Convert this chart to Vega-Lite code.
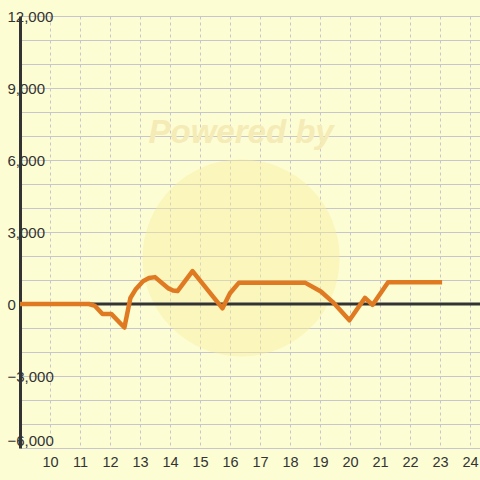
{
  "$schema": "https://vega.github.io/schema/vega-lite/v6.json",
  "width": 460,
  "height": 432,
  "autosize": "none",
  "padding": {"left": 20, "top": 16, "right": 0, "bottom": 32},
  "background": "#FDFDD3",
  "config": {
    "view": {"stroke": null},
    "font": "Liberation Sans"
  },
  "datasets": {
    "series": [
      {"x": 9.0, "v": 0},
      {"x": 11.3, "v": 0},
      {"x": 11.5, "v": -80},
      {"x": 11.75, "v": -420},
      {"x": 12.05, "v": -420},
      {"x": 12.48, "v": -980},
      {"x": 12.68, "v": 250},
      {"x": 12.85, "v": 600},
      {"x": 13.1, "v": 950},
      {"x": 13.3, "v": 1080},
      {"x": 13.5, "v": 1120},
      {"x": 13.95, "v": 650},
      {"x": 14.1, "v": 560},
      {"x": 14.25, "v": 540},
      {"x": 14.75, "v": 1370},
      {"x": 15.75, "v": -180},
      {"x": 16.0, "v": 450},
      {"x": 16.3, "v": 890},
      {"x": 18.5, "v": 890},
      {"x": 19.03, "v": 520},
      {"x": 19.42, "v": 90},
      {"x": 19.98, "v": -680},
      {"x": 20.5, "v": 260},
      {"x": 20.75, "v": -40},
      {"x": 21.27, "v": 910},
      {"x": 23.07, "v": 910}
    ],
    "mark": [
      {"x": 16.37, "v": 1920, "label": "Powered by", "tv": 7125}
    ]
  },
  "encoding": {
    "x": {
      "field": "x", "type": "quantitative",
      "scale": {"domain": [9, 24.3333], "nice": false, "zero": false},
      "axis": {
        "title": null,
        "values": [10, 11, 12, 13, 14, 15, 16, 17, 18, 19, 20, 21, 22, 23, 24],
        "domain": false, "ticks": false, "tickSize": 0,
        "labelPadding": 7, "labelFontSize": 14.5, "labelColor": "#333333",
        "labelFont": "Liberation Sans",
        "grid": true, "gridColor": "#C6C6CC", "gridDash": [3, 3], "gridWidth": 1
      }
    },
    "y": {
      "field": "v", "type": "quantitative",
      "scale": {"domain": [-6000, 12000], "nice": false, "zero": false},
      "axis": {
        "title": null,
        "values": [-6000, -5000, -4000, -3000, -2000, -1000, 0, 1000, 2000, 3000, 4000, 5000, 6000, 7000, 8000, 9000, 10000, 11000, 12000],
        "labelExpr": "datum.value % 3000 == 0 ? format(datum.value, ',') : ''",
        "domain": true, "domainColor": "#333333", "domainWidth": 3,
        "ticks": false, "tickSize": 0,
        "labelAlign": "left", "labelPadding": 13, "labelFlush": false,
        "labelBaseline": {"condition": {"test": "datum.value == -6000", "value": "bottom"}, "value": "middle"},
        "labelFontSize": 15, "labelColor": "#333333", "labelFont": "Liberation Sans",
        "grid": true, "gridColor": "#C6C6CC", "gridWidth": 1.2
      }
    }
  },
  "layer": [
    {
      "data": {"name": "mark"},
      "mark": {"type": "point", "shape": "circle", "filled": true, "size": 38800, "color": "#F8EC9C", "opacity": 0.42},
      "encoding": {}
    },
    {
      "data": {"name": "mark"},
      "mark": {"type": "text", "fontSize": 33, "fontWeight": "bold", "fontStyle": "italic", "color": "#F4EBB6", "align": "center", "baseline": "middle", "font": "Liberation Sans"},
      "encoding": {"y": {"field": "tv", "type": "quantitative"}, "text": {"field": "label"}}
    },
    {
      "data": {"name": "mark"},
      "mark": {"type": "rule", "color": "#333333", "strokeWidth": 3},
      "encoding": {"x": null, "y": {"datum": 0}}
    },
    {
      "data": {"name": "series"},
      "mark": {"type": "line", "color": "#E07A22", "strokeWidth": 4.5, "strokeJoin": "round", "strokeCap": "butt"},
      "encoding": {}
    }
  ]
}
